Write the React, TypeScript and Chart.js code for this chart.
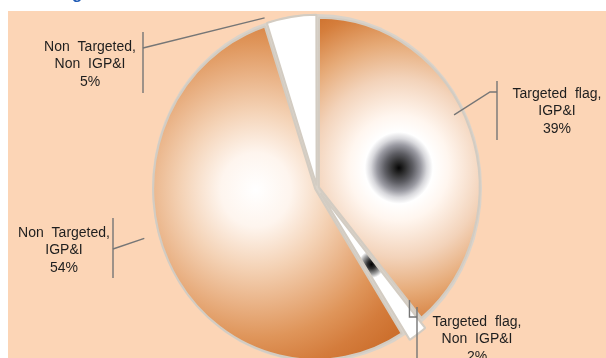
import React, { useEffect, useRef } from 'react';
import { Chart, registerables } from 'chart.js';

Chart.register(...registerables);

// ---- data ----
const categories = [
  'Targeted flag, IGP&I',
  'Targeted flag, Non IGP&I',
  'Non Targeted, IGP&I',
  'Non Targeted, Non IGP&I',
];
const shares = [39, 2, 54, 5];
const labelLines = [
  ['Targeted flag,', 'IGP&I', '39%'],
  ['Targeted flag,', 'Non IGP&I', '2%'],
  ['Non Targeted,', 'IGP&I', '54%'],
  ['Non Targeted,', 'Non IGP&I', '5%'],
];
const explode = [8, 24, 8, 10];

// ---- styling / layout ----
const W = 606;
const H = 358;
const PIE_R = 160;
const SY = 1.055;
const PEACH = '#fcd5b6';

const sliceStops: [number, string][][] = [
  [[0, '#050505'], [5, '#262626'], [14, '#5d5d63'], [22, '#9a9aa2'], [28, '#d8d8dc'], [34, '#ffffff'], [50, '#fff6ef'], [85, '#f3d3ba'], [118, '#e6aa77'], [150, '#d57e3c'], [185, '#c4611c']],
  [[0, '#000000'], [4, '#2e2e2e'], [9, '#9a9a9a'], [13, '#ffffff'], [40, '#ffffff']],
  [[0, '#ffffff'], [35, '#fef5ee'], [75, '#f4d2b5'], [110, '#e9b184'], [140, '#df955a'], [170, '#d47c3c'], [205, '#c96a27']],
  [[0, '#ffffff'], [10, '#ffffff']],
];
// how far the gradient focus sits from the apex, relative to the slice's box centre
const gradPull = [1, 1, 1.6, 1];

const labelLayout = [
  { tx: 557, ty: 94, bx: 497, by1: 81, by2: 140, jy: 92, elbowX: 490 as number | null, t: 0.45, rf: 0.96 },
  { tx: 477, ty: 322, bx: 417, by1: 307, by2: 370, jy: 317, elbowX: null, t: -0.2, rf: 0.88, vertical: true },
  { tx: 64, ty: 233, bx: 113, by1: 218, by2: 278, jy: 249, elbowX: null, t: 0.55, rf: 1.12 },
  { tx: 90, ty: 47, bx: 143, by1: 32, by2: 93, jy: 48, elbowX: null, t: 0, rf: 1.06 },
];

function pieCenter(chart: any) {
  const a = chart.chartArea;
  return { cx: (a.left + a.right) / 2, cy: (a.top + a.bottom) / 2 };
}

function sliceAngles(i: number) {
  const total = shares.reduce((s, v) => s + v, 0);
  let cum = 0;
  for (let k = 0; k < i; k++) cum += shares[k];
  const a0 = -Math.PI / 2 + (2 * Math.PI * cum) / total;
  const a1 = a0 + (2 * Math.PI * shares[i]) / total;
  return { a0, a1 };
}

function bboxCenter(cx: number, cy: number, r: number, a0: number, a1: number) {
  const xs = [cx];
  const ys = [cy];
  const add = (a: number) => {
    xs.push(cx + r * Math.cos(a));
    ys.push(cy + r * Math.sin(a));
  };
  add(a0);
  add(a1);
  for (let k = -4; k <= 8; k++) {
    const a = (k * Math.PI) / 2;
    if (a > a0 && a < a1) add(a);
  }
  return [(Math.min(...xs) + Math.max(...xs)) / 2, (Math.min(...ys) + Math.max(...ys)) / 2];
}

function sliceFill(context: any) {
  const chart = context.chart;
  const i = context.dataIndex;
  if (!chart.chartArea || i === undefined) return '#e0a070';
  const { cx, cy } = pieCenter(chart);
  const { a0, a1 } = sliceAngles(i);
  const [bx, by] = bboxCenter(cx, cy, PIE_R, a0, a1);
  const gx = cx + (bx - cx) * gradPull[i];
  const gy = cy + (by - cy) * (gradPull[i] === 1 ? 1 : 0.2);
  const stops = sliceStops[i];
  const maxD = stops[stops.length - 1][0];
  const g = chart.ctx.createRadialGradient(gx, gy, 0, gx, gy, maxD);
  stops.forEach(([d, c]) => g.addColorStop(d / maxD, c));
  return g;
}

const decorPlugin = {
  id: 'decor',
  beforeDraw(chart: any) {
    const ctx = chart.ctx;
    ctx.save();
    ctx.fillStyle = '#ffffff';
    ctx.fillRect(0, 0, W, H);
    ctx.fillStyle = PEACH;
    ctx.fillRect(8, 11, W - 8, H - 11);
    ctx.fillStyle = '#1f5bb5';
    ctx.font = 'bold 17px "Liberation Sans", Arial, sans-serif';
    ctx.textBaseline = 'alphabetic';
    ctx.fillText('g', 72, -1);
    ctx.restore();
  },
  beforeDatasetsDraw(chart: any) {
    const ctx = chart.ctx;
    const { cx, cy } = pieCenter(chart);
    ctx.save();
    ctx.translate(cx, cy);
    ctx.scale(1, SY);
    ctx.translate(-cx, -cy);
    ctx.beginPath();
    ctx.arc(cx, cy, PIE_R + 5, 0, Math.PI * 2);
    ctx.fillStyle = '#dad3ca';
    ctx.fill();
  },
  afterDatasetsDraw(chart: any) {
    const ctx = chart.ctx;
    ctx.restore();
    const { cx, cy } = pieCenter(chart);
    ctx.save();
    labelLayout.forEach((L, i) => {
      const { a0, a1 } = sliceAngles(i);
      const a = a0 + L.t * (a1 - a0);
      const ax = cx + L.rf * PIE_R * Math.cos(a);
      const ay = cy + L.rf * PIE_R * Math.sin(a) * SY;
      ctx.strokeStyle = '#767676';
      ctx.lineWidth = 1.4;
      ctx.beginPath();
      ctx.moveTo(L.bx, L.by1);
      ctx.lineTo(L.bx, L.by2);
      ctx.stroke();
      ctx.beginPath();
      ctx.moveTo(L.bx, L.jy);
      if ((L as any).vertical) {
        ctx.lineTo(ax, L.jy);
      } else if (L.elbowX !== null) {
        ctx.lineTo(L.elbowX, L.jy);
      }
      ctx.lineTo(ax, ay);
      ctx.stroke();
      ctx.fillStyle = '#1e1e1e';
      ctx.font = '14px "Liberation Sans", Arial, sans-serif';
      (ctx as any).wordSpacing = '4px';
      ctx.textAlign = 'center';
      ctx.textBaseline = 'middle';
      labelLines[i].forEach((line, k) => {
        ctx.fillText(line, L.tx, L.ty + k * 17.5);
      });
    });
    ctx.restore();
  },
};

export default function App() {
  const ref = useRef<HTMLCanvasElement>(null);
  useEffect(() => {
    const canvas = ref.current;
    if (!canvas) return;
    const chart = new Chart(canvas, {
      type: 'pie',
      data: {
        labels: categories,
        datasets: [
          {
            data: shares,
            backgroundColor: sliceFill as any,
            borderColor: '#d3ccc2',
            borderWidth: 2,
            offset: explode,
            hoverOffset: 0,
            radius: PIE_R,
          } as any,
        ],
      },
      options: {
        responsive: false,
        animation: false,
        devicePixelRatio: 1,
        events: [],
        layout: { padding: { left: 28, right: 0, top: 18, bottom: 0 } },
        plugins: {
          legend: { display: false },
          tooltip: { enabled: false },
          title: { display: false },
        },
      },
      plugins: [decorPlugin],
    });
    return () => chart.destroy();
  }, []);
  return (
    <div style={{ position: 'fixed', left: 0, top: 0, width: W, height: H, background: '#fff' }}>
      <canvas ref={ref} width={W} height={H} style={{ width: W, height: H, display: 'block' }} />
    </div>
  );
}
